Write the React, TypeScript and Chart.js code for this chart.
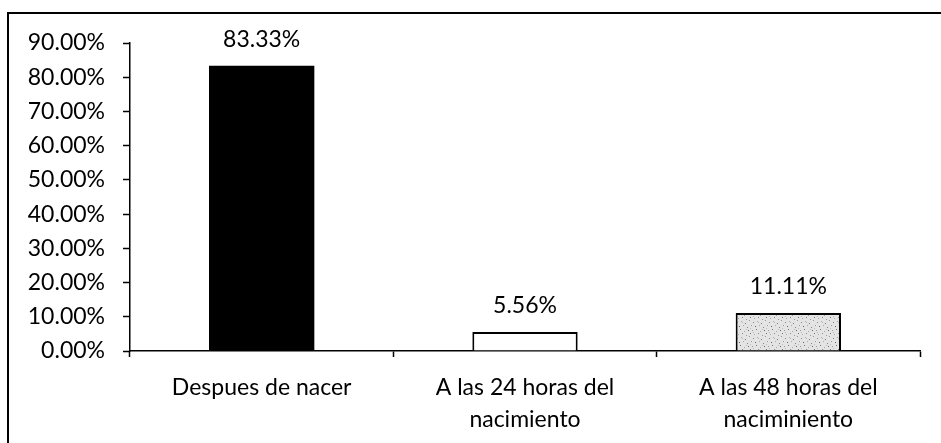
import React, { useEffect, useRef } from "react";
import { Chart, registerables } from "chart.js";

Chart.register(...registerables);

const categories: string[][] = [
  ["Despues de nacer"],
  ["A las 24 horas del", "nacimiento"],
  ["A las 48 horas del", "naciminiento"],
];
const values: number[] = [83.33, 5.56, 11.11];
const yMin = 0;
const yMax = 90;
const yStep = 10;

const FONT = "Lato, 'Open Sans', sans-serif";

// fixed speckle layout for the stippled bar texture
const speckles: [number, number, string][] = [
  [1, 2, "#888"], [5, 1, "#aaa"], [9, 3, "#777"], [13, 0, "#999"],
  [3, 6, "#666"], [7, 5, "#aaa"], [11, 7, "#888"], [15, 5, "#999"],
  [0, 10, "#999"], [4, 9, "#777"], [8, 11, "#aaa"], [12, 10, "#666"],
  [2, 14, "#aaa"], [6, 13, "#888"], [10, 15, "#999"], [14, 13, "#777"],
  [6, 2, "#bbb"], [10, 9, "#bbb"], [1, 12, "#bbb"], [14, 8, "#bbb"],
];

function makePattern(): CanvasPattern | string {
  const c = document.createElement("canvas");
  c.width = 16;
  c.height = 16;
  const ctx = c.getContext("2d");
  if (!ctx) return "#dddddd";
  ctx.fillStyle = "#e4e4e4";
  ctx.fillRect(0, 0, 16, 16);
  for (const [x, y, col] of speckles) {
    ctx.fillStyle = col;
    ctx.fillRect(x, y, 1, 1);
  }
  return ctx.createPattern(c, "repeat") || "#dddddd";
}

const valueLabels = {
  id: "valueLabels",
  afterDatasetsDraw(chart: any) {
    const ctx = chart.ctx;
    const meta = chart.getDatasetMeta(0);
    ctx.save();
    ctx.font = `23px ${FONT}`;
    ctx.fillStyle = "#000";
    ctx.textAlign = "center";
    ctx.textBaseline = "alphabetic";
    meta.data.forEach((bar: any, i: number) => {
      const v = chart.data.datasets[0].data[i] as number;
      ctx.fillText(v.toFixed(2) + "%", bar.x, bar.y - 19);
    });
    ctx.restore();
  },
};

export default function App() {
  const ref = useRef<HTMLCanvasElement | null>(null);

  useEffect(() => {
    document.body.style.margin = "0";
    document.body.style.overflow = "hidden";
    const canvas = ref.current;
    if (!canvas) return;
    const pattern = makePattern();
    const chart = new Chart(canvas, {
      type: "bar",
      data: {
        labels: categories,
        datasets: [
          {
            data: values,
            backgroundColor: ["#000000", "#ffffff", pattern as any],
            borderColor: "#000000",
            borderWidth: [0, 2, 2],
            categoryPercentage: 1,
            barPercentage: 0.4,
          },
        ],
      },
      options: {
        responsive: false,
        animation: false,
        events: [],
        layout: { padding: { top: 43, right: 21, left: 0, bottom: 0 } },
        plugins: {
          legend: { display: false },
          tooltip: { enabled: false },
          title: { display: false },
        },
        scales: {
          x: {
            afterFit: (s: any) => {
              s.height = 92;
            },
            grid: {
              display: true,
              drawOnChartArea: false,
              drawTicks: true,
              tickLength: 6,
              tickWidth: 1.5,
              tickColor: "#000",
              color: "#000",
            },
            border: { display: true, color: "#000", width: 1.5 },
            ticks: {
              color: "#000",
              padding: 14,
              maxRotation: 0,
              autoSkip: false,
              font: { family: FONT, size: 23, lineHeight: 1.4 },
            },
          },
          y: {
            min: yMin,
            max: yMax,
            afterFit: (s: any) => {
              s.width = 130;
            },
            grid: {
              display: true,
              drawOnChartArea: false,
              drawTicks: true,
              tickLength: 7,
              tickWidth: 1.5,
              tickColor: "#000",
              color: "#000",
            },
            border: { display: true, color: "#000", width: 1.5 },
            ticks: {
              stepSize: yStep,
              color: "#000",
              padding: 18,
              font: { family: FONT, size: 23 },
              callback: (v: any) => Number(v).toFixed(2) + "%",
            },
          },
        },
      },
      plugins: [valueLabels],
    });
    return () => chart.destroy();
  }, []);

  return (
    <div style={{ position: "relative", width: 941, height: 443, overflow: "hidden" }}>
      <div
        style={{
          position: "absolute",
          left: 7,
          top: 12,
          width: 960,
          height: 460,
          border: "2px solid #000",
          boxSizing: "border-box",
        }}
      />
      <canvas
        ref={ref}
        width={941}
        height={443}
        style={{ position: "absolute", left: 0, top: 0, width: 941, height: 443 }}
      />
    </div>
  );
}
